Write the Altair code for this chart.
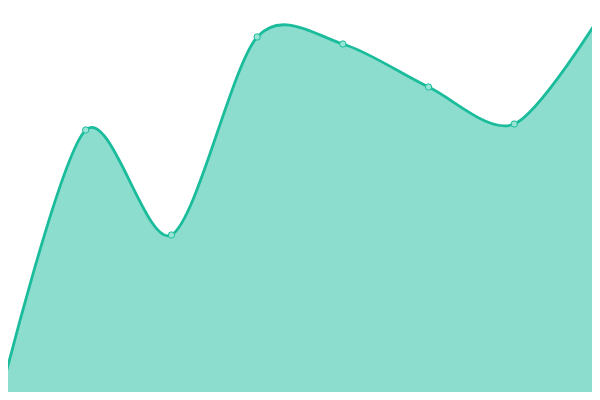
import altair as alt
import pandas as pd

xs = [0, 1, 2, 3, 4, 5, 6, 7]
values = [3, 270, 165, 363, 356, 313, 276, 384]

df = pd.DataFrame({"x": xs, "v": values})

x = alt.X("x:Q", scale=alt.Scale(domain=[0, 7], nice=False, zero=False, range=[0, 600]), axis=None)
y = alt.Y("v:Q", scale=alt.Scale(domain=[0, 400], nice=False, range=[400, 0]), axis=None)

area = alt.Chart(df).mark_area(
    interpolate="cardinal", tension=0.12, color="#1abc9c", fillOpacity=0.5,
    line={"color": "#1abc9c", "strokeWidth": 2.8}
).encode(x=x, y=y)

pts = alt.Chart(df).mark_point(
    filled=True, fill="#98e5d6", stroke="#1abc9c", strokeWidth=1, size=40, opacity=1
).encode(x=x, y=y)

chart = (area + pts).properties(
    width=592, height=392,
    padding={"left": -8, "top": -8, "right": 0, "bottom": 0},
    autosize=alt.AutoSizeParams(type="none"),
).configure_view(stroke=None)

chart.save("out.html", embed_options={"renderer": "svg", "actions": False})
